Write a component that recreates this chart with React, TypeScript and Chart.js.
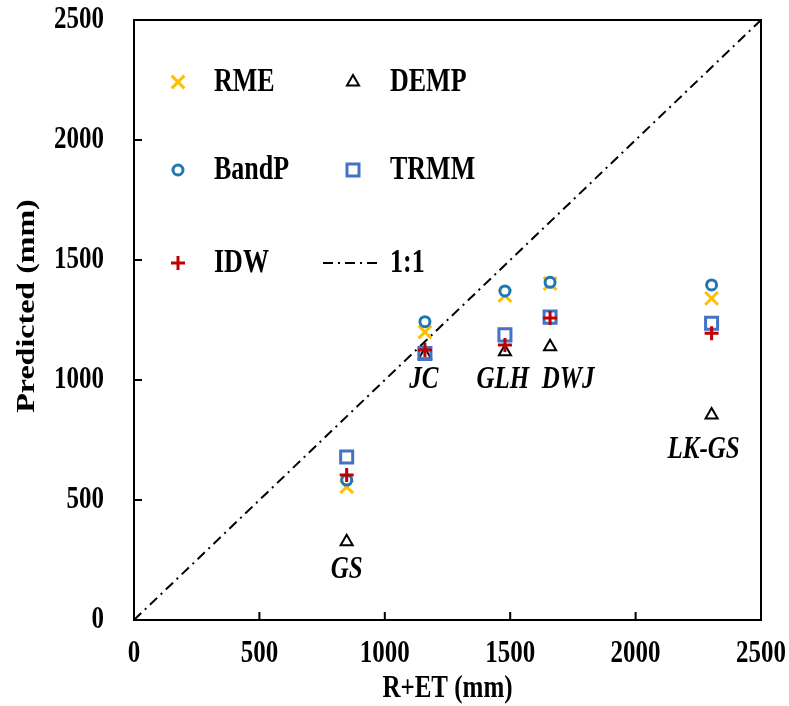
import React, { useEffect, useRef } from "react";
import { Chart, registerables } from "chart.js";
import { drawPoint } from "chart.js/helpers";

Chart.register(...registerables);

// ---- data ----
const sites = ["GS", "JC", "GLH", "DWJ", "LK-GS"];
const observed = [848, 1160, 1479, 1659, 2303]; // R+ET (mm)
const rme = [555, 1200, 1352, 1402, 1340];
const demp = [326, 1104, 1118, 1139, 854];
const bandP = [583, 1243, 1371, 1407, 1396];
const trmm = [679, 1110, 1188, 1262, 1236];
const idw = [604, 1125, 1146, 1258, 1195];
const oneToOneX = [0, 2500];
const oneToOneY = [0, 2500];
const axisTicks = [0, 500, 1000, 1500, 2000, 2500];
const xTitle = "R+ET (mm)";
const yTitle = "Predicted (mm)";

const SERIF = "'Liberation Serif', 'Times New Roman', serif";
const STRETCH = 1.28; // the reference text is drawn taller than wide

const toPoints = (ys: number[]) => ys.map((y, i) => ({ x: observed[i], y }));

function stretchedText(
  ctx: CanvasRenderingContext2D,
  text: string,
  x: number,
  y: number,
  font: string,
  align: CanvasTextAlign,
  rotate = 0
) {
  ctx.save();
  ctx.translate(x, y);
  if (rotate) ctx.rotate(rotate);
  if (rotate) ctx.scale(STRETCH, 1);
  else ctx.scale(1, STRETCH);
  ctx.font = font;
  ctx.fillStyle = "#000";
  ctx.textAlign = align;
  ctx.textBaseline = "middle";
  ctx.fillText(text, 0, 0);
  ctx.restore();
}

// custom 2x3 legend inside the plot
const legendPlugin = {
  id: "insideLegend",
  afterDatasetsDraw(chart: any) {
    const { ctx, chartArea } = chart;
    const colMarker = [44, 219];
    const colText = [80, 256];
    const rows = [62, 150, 243];
    chart.data.datasets.forEach((ds: any, i: number) => {
      const row = Math.floor(i / 2);
      const col = i % 2;
      const y = chartArea.top + rows[row];
      const mx = chartArea.left + colMarker[col];
      ctx.save();
      if (ds.showLine) {
        ctx.strokeStyle = ds.borderColor;
        ctx.lineWidth = ds.borderWidth;
        ctx.setLineDash(ds.borderDash);
        ctx.beginPath();
        ctx.moveTo(chartArea.left + 189, y);
        ctx.lineTo(chartArea.left + 247, y);
        ctx.stroke();
        ctx.setLineDash([]);
      } else {
        ctx.strokeStyle = ds.borderColor;
        ctx.fillStyle = ds.backgroundColor;
        ctx.lineWidth = ds.borderWidth;
        drawPoint(
          ctx,
          { pointStyle: ds.pointStyle, radius: ds.pointRadius, rotation: 0, borderWidth: ds.borderWidth } as any,
          mx,
          y
        );
      }
      ctx.restore();
      stretchedText(ctx, ds.label, chartArea.left + colText[col], y, `bold 26px ${SERIF}`, "left");
    });
  },
};

// frame with inward tick marks, tick labels and axis titles
const framePlugin = {
  id: "frame",
  afterDraw(chart: any) {
    const { ctx, chartArea, scales } = chart;
    const { left, top, right, bottom } = chartArea;
    ctx.save();
    ctx.strokeStyle = "#000";
    ctx.lineWidth = 2;
    ctx.strokeRect(left, top, right - left, bottom - top);
    ctx.beginPath();
    axisTicks.forEach((v) => {
      if (v === 0 || v === 2500) return;
      const py = scales.y.getPixelForValue(v);
      ctx.moveTo(left, py);
      ctx.lineTo(left + 8, py);
      const px = scales.x.getPixelForValue(v);
      ctx.moveTo(px, bottom);
      ctx.lineTo(px, bottom - 8);
    });
    ctx.stroke();
    ctx.restore();

    const tickFont = `bold 25px ${SERIF}`;
    axisTicks.forEach((v) => {
      stretchedText(ctx, String(v), left - 30, scales.y.getPixelForValue(v), tickFont, "right");
      stretchedText(ctx, String(v), scales.x.getPixelForValue(v), bottom + 34, tickFont, "center");
    });
    stretchedText(ctx, xTitle, (left + right) / 2, bottom + 69, `bold 25px ${SERIF}`, "center");
    stretchedText(ctx, yTitle, 28, (top + bottom) / 2 - 14, `bold 25px ${SERIF}`, "center", -Math.PI / 2);
  },
};

// site name labels under each cluster
const siteLabelPlugin = {
  id: "siteLabels",
  afterDatasetsDraw(chart: any) {
    const { ctx, scales } = chart;
    const dx = [0, -1, -2, 18, -8];
    const dy = [28, 25, 28, 33, 35];
    sites.forEach((name, i) => {
      const low = Math.min(rme[i], demp[i], bandP[i], trmm[i], idw[i]);
      const px = scales.x.getPixelForValue(observed[i]) + dx[i];
      const py = scales.y.getPixelForValue(low) + dy[i];
      stretchedText(ctx, name, px, py, `italic bold 25px ${SERIF}`, "center");
    });
  },
};

export default function App() {
  const canvasRef = useRef<HTMLCanvasElement | null>(null);

  useEffect(() => {
    document.body.style.margin = "0";
    const canvas = canvasRef.current;
    if (!canvas) return;
    const chart = new Chart(canvas, {
      type: "scatter",
      data: {
        datasets: [
          {
            label: "RME",
            data: toPoints(rme),
            pointStyle: "crossRot",
            pointRadius: 9,
            borderWidth: 3,
            borderColor: "#FFC000",
            backgroundColor: "#FFC000",
            order: 4,
          },
          {
            label: "DEMP",
            data: toPoints(demp),
            pointStyle: "triangle",
            pointRadius: 7,
            borderWidth: 2,
            borderColor: "#000000",
            backgroundColor: "rgba(0,0,0,0)",
            order: 3,
          },
          {
            label: "BandP",
            data: toPoints(bandP),
            pointStyle: "circle",
            pointRadius: 5,
            borderWidth: 3,
            borderColor: "#1F78B4",
            backgroundColor: "#ffffff",
            order: 2,
          },
          {
            label: "TRMM",
            data: toPoints(trmm),
            pointStyle: "rect",
            pointRadius: 8.5,
            borderWidth: 3,
            borderColor: "#4472C4",
            backgroundColor: "rgba(0,0,0,0)",
            order: 1,
          },
          {
            label: "IDW",
            data: toPoints(idw),
            pointStyle: "cross",
            pointRadius: 7,
            borderWidth: 3,
            borderColor: "#C00000",
            backgroundColor: "#C00000",
            order: 0,
          },
          {
            label: "1:1",
            data: oneToOneX.map((x, i) => ({ x, y: oneToOneY[i] })),
            showLine: true,
            pointRadius: 0,
            borderWidth: 2,
            borderColor: "#000000",
            backgroundColor: "#000000",
            borderDash: [10, 5, 2, 5],
            order: 5,
          } as any,
        ],
      },
      options: {
        animation: false,
        responsive: false,
        layout: { padding: { left: 0, top: 20, right: 28, bottom: 0 } },
        plugins: {
          legend: { display: false },
          tooltip: { enabled: false },
        },
        scales: {
          x: {
            type: "linear",
            min: 0,
            max: 2500,
            grid: { display: false },
            border: { display: false },
            ticks: { display: false, stepSize: 500 },
            title: { display: false, text: xTitle },
            afterFit: (s: any) => {
              s.height = 86;
              s.paddingLeft = 0;
              s.paddingRight = 0;
              s.paddingTop = 0;
              s.paddingBottom = 0;
            },
          },
          y: {
            type: "linear",
            min: 0,
            max: 2500,
            grid: { display: false },
            border: { display: false },
            ticks: { display: false, stepSize: 500 },
            title: { display: false, text: yTitle },
            afterFit: (s: any) => {
              s.width = 134;
              s.paddingLeft = 0;
              s.paddingRight = 0;
              s.paddingTop = 0;
              s.paddingBottom = 0;
            },
          },
        },
      },
      plugins: [framePlugin, siteLabelPlugin, legendPlugin],
    } as any);
    return () => chart.destroy();
  }, []);

  return (
    <div style={{ position: "absolute", left: 0, top: 0, width: 789, height: 706, background: "#fff" }}>
      <canvas ref={canvasRef} width={789} height={706} />
    </div>
  );
}
